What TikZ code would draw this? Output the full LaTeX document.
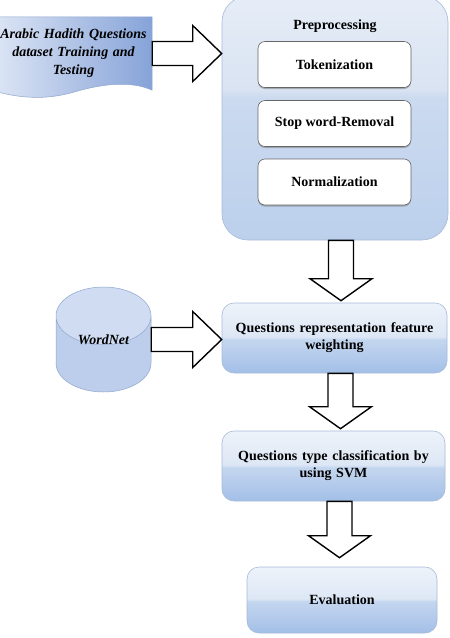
\documentclass[tikz,border=0pt]{standalone}
\usepackage{fontspec}
\setmainfont{Liberation Serif}
\usetikzlibrary{calc,shapes.geometric,shadows,backgrounds}

\definecolor{boxtop}{HTML}{EEF3FA}
\definecolor{boxhi}{HTML}{DDE7F5}
\definecolor{boxmid}{HTML}{C4D6EF}
\definecolor{boxbot}{HTML}{A3BFE7}
\definecolor{boxline}{HTML}{A7BAD8}
\definecolor{preptop}{HTML}{E6EDF7}
\definecolor{prephi}{HTML}{D9E3F2}
\definecolor{prepmid}{HTML}{CBDAEF}
\definecolor{prepbot}{HTML}{BCD0EC}
\definecolor{dataleft}{HTML}{DCE5F5}
\definecolor{dataright}{HTML}{86A3D8}
\definecolor{cylbody}{HTML}{BCCEEC}
\definecolor{cyltop}{HTML}{CFDCF2}
\definecolor{cylline}{HTML}{8FA5CC}

\pgfdeclareverticalshading{gloss}{100bp}{color(0bp)=(boxbot); color(25bp)=(boxbot);
  color(49bp)=(boxmid); color(51bp)=(boxhi); color(75bp)=(boxtop); color(100bp)=(boxtop)}
\pgfdeclareverticalshading{prepgloss}{100bp}{color(0bp)=(prepbot); color(25bp)=(prepbot);
  color(54bp)=(prepmid); color(56bp)=(prephi); color(75bp)=(preptop); color(100bp)=(preptop)}

\tikzset{
  flowbox/.style={rounded corners=12pt, shading=gloss, draw=boxline, line width=0.6pt,
    align=center},
  prepbox/.style={rounded corners=26pt, shading=prepgloss, draw=boxline, line width=0.6pt},
  stepbox/.style={rounded corners=7pt, fill=white, draw=black!60, line width=0.6pt,
    minimum width=153pt, minimum height=46pt,
    drop shadow={shadow xshift=0pt, shadow yshift=-1.5pt, fill=black!55}},
  blockarrow/.style={draw=black, fill=white, line width=1.4pt, line join=miter},
  datafill/.style={left color=dataleft, right color=dataright, draw=cylline, line width=0.5pt},
  dbcyl/.style={cylinder, shape border rotate=90, aspect=1, draw=cylline, line width=0.5pt,
    cylinder uses custom fill, cylinder body fill=cylbody, cylinder end fill=cyltop,
    minimum width=95pt, minimum height=105pt}
}

% block arrows between two anchors
\newcommand{\blockdown}[3][2pt]{%
  \draw[blockarrow] let \p1=($(#2.south)+(6,0)$), \p2=(#3.north) in
    (\x1-12.5pt,\y1) -- (\x1-12.5pt,\y2+22pt+#1) -- (\x1-31pt,\y2+22pt+#1) -- (\x1,\y2+#1)
    -- (\x1+31pt,\y2+22pt+#1) -- (\x1+12.5pt,\y2+22pt+#1) -- (\x1+12.5pt,\y1) -- cycle;}
\newcommand{\blockright}[2]{%
  \draw[blockarrow] let \p1=(#1), \p2=(#2) in
    (\x1,\y1+12pt) -- (\x2-29pt,\y1+12pt) -- (\x2-29pt,\y1+28pt) -- (\x2,\y1)
    -- (\x2-29pt,\y1-28pt) -- (\x2-29pt,\y1-12pt) -- (\x1,\y1-12pt) -- cycle;}

\begin{document}
\begin{tikzpicture}[x=1pt, y=-1pt, font=\fontsize{14}{17}\selectfont\bfseries]
  \useasboundingbox (0,0) rectangle (450,638);

  % preprocessing stage
  \node[prepbox, minimum width=226pt, minimum height=244pt] (prep) at (335,118) {};
  \node (preptitle) at (335,26) {Preprocessing};
  \node[stepbox] (tok) at (334.5,64.5) {Tokenization};
  \node[stepbox] (stop) at (334.5,123.5) {Stop word-Removal};
  \node[stepbox] (norm) at (334.5,182) {Normalization};

  % input data, drawn as a document
  \node[minimum width=157pt, minimum height=73pt, text width=150pt, align=center,
    font=\fontsize{14}{18}\selectfont\bfseries\itshape] (data) at (73.5,53.5)
    {Arabic Hadith Questions\\dataset Training and\\Testing};
  \begin{pgfonlayer}{background}
    \draw[datafill] (data.south east) -- (data.north east) -- (data.north west)
      -- ($(data.south west)+(0,1)$)
      .. controls +(25,7) and +(-28,8) .. ($(data.south)+(0,2)$)
      .. controls +(27,-8) and +(-22,-10) .. (data.south east) -- cycle;
  \end{pgfonlayer}

  % later stages
  \node[dbcyl, anchor=shape center] (wordnet) at (103.5,339.5) {\itshape\phantom{WordNet}};
  \node[font=\fontsize{14}{17}\selectfont\bfseries\itshape] (wordnettext)
    at (wordnet.shape center) {WordNet};
  \node[flowbox, minimum width=225pt, minimum height=70pt, text width=215pt]
    (feat) at (334.5,338) {Questions representation feature\\weighting};
  \node[flowbox, minimum width=223pt, minimum height=70pt, text width=213pt]
    (svm) at (333.5,466) {Questions type classification by\\using SVM};
  \node[flowbox, minimum width=190pt, minimum height=66pt] (eval) at (342,600) {Evaluation};

  % block arrows
  \blockright{data.east}{data.east -| prep.west}
  \blockright{wordnet.shape center -| wordnet.east}{wordnet.shape center -| feat.west}
  \blockdown{prep}{feat}
  \blockdown{feat}{svm}
  \blockdown[9pt]{svm}{eval}
\end{tikzpicture}
\end{document}
